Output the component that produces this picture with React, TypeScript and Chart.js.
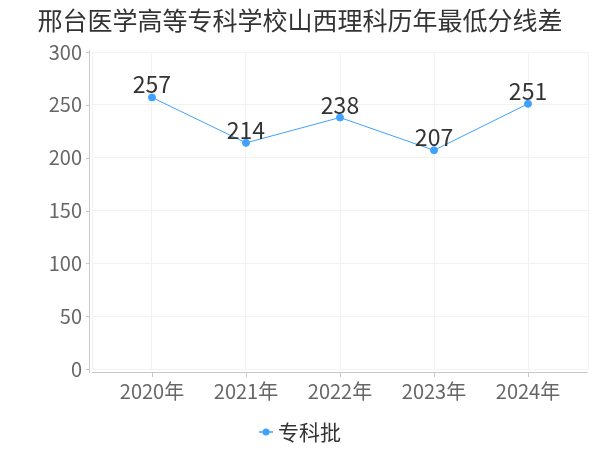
import React, { useEffect, useRef } from "react";
import { Chart, registerables } from "chart.js";

Chart.register(...registerables);

const titleText = "邢台医学高等专科学校山西理科历年最低分线差";
const categories = ["2020年", "2021年", "2022年", "2023年", "2024年"];
const seriesName = "专科批";
const seriesValues = [257, 214, 238, 207, 251];
const yTicks = [0, 50, 100, 150, 200, 250, 300];

const FONT = '"Noto Sans CJK SC", "Noto Sans", sans-serif';
const BLUE = "#3fa1ff";

const decorPlugin = {
  id: "decor",
  beforeDatasetsDraw(chart: any) {
    const { ctx, chartArea } = chart;
    const { left, right, top, bottom } = chartArea;
    ctx.save();
    ctx.strokeStyle = "#f2f2f2";
    ctx.lineWidth = 1;
    ctx.beginPath();
    ctx.moveTo(right + 0.5, top);
    ctx.lineTo(right + 0.5, bottom);
    ctx.moveTo(left + 0.5, top);
    ctx.lineTo(left + 0.5, bottom);
    ctx.stroke();
    ctx.strokeStyle = "#c8c8c8";
    ctx.beginPath();
    ctx.moveTo(left - 2.5, top - 2);
    ctx.lineTo(left - 2.5, bottom + 4);
    ctx.moveTo(left, bottom + 3.5);
    ctx.lineTo(right, bottom + 3.5);
    const ys = chart.scales.y;
    ys.ticks.forEach((t: any) => {
      const py = Math.round(ys.getPixelForValue(t.value)) + 0.5;
      ctx.moveTo(left - 6, py);
      ctx.lineTo(left - 2.5, py);
    });
    const xs = chart.scales.x;
    xs.ticks.forEach((t: any) => {
      const px = Math.round(xs.getPixelForValue(t.value)) + 0.5;
      ctx.moveTo(px, bottom + 3.5);
      ctx.lineTo(px, bottom + 8);
    });
    ctx.stroke();
    ctx.restore();
  },
  afterDatasetsDraw(chart: any) {
    const { ctx } = chart;
    ctx.save();
    const meta = chart.getDatasetMeta(0);
    ctx.font = `23px ${FONT}`;
    ctx.fillStyle = "#333";
    ctx.textAlign = "center";
    ctx.textBaseline = "alphabetic";
    meta.data.forEach((el: any, i: number) => {
      ctx.fillText(String(seriesValues[i]), el.x, el.y - 4);
    });
    ctx.font = `25px ${FONT}`;
    ctx.fillStyle = "#333";
    ctx.textBaseline = "middle";
    ctx.fillText(titleText, chart.width / 2, 20);
    ctx.font = `21px ${FONT}`;
    ctx.textAlign = "left";
    const tw = ctx.measureText(seriesName).width;
    const lw = 14;
    const gap = 5;
    const total = lw + gap + tw;
    const sx = chart.width / 2 - total / 2;
    const ly = 432;
    ctx.strokeStyle = BLUE;
    ctx.lineWidth = 1.5;
    ctx.beginPath();
    ctx.moveTo(sx, ly);
    ctx.lineTo(sx + lw, ly);
    ctx.stroke();
    ctx.fillStyle = BLUE;
    ctx.beginPath();
    ctx.arc(sx + lw / 2, ly, 3.5, 0, Math.PI * 2);
    ctx.fill();
    ctx.fillStyle = "#333";
    ctx.fillText(seriesName, sx + lw + gap, ly);
    ctx.restore();
  },
};

export default function App() {
  const ref = useRef<HTMLCanvasElement | null>(null);
  useEffect(() => {
    document.body.style.margin = "0";
    const canvas = ref.current;
    if (!canvas) return;
    const pad = 0.638;
    const chart = new Chart(canvas, {
      type: "line",
      data: {
        datasets: [
          {
            label: seriesName,
            data: seriesValues.map((v, i) => ({ x: i, y: v })),
            borderColor: BLUE,
            backgroundColor: BLUE,
            borderWidth: 1,
            pointRadius: 3.5,
            pointHoverRadius: 3.5,
            pointBackgroundColor: BLUE,
            pointBorderColor: BLUE,
            tension: 0,
          },
        ],
      },
      plugins: [decorPlugin],
      options: {
        animation: false,
        responsive: false,
        events: [],
        layout: { padding: { top: 52, right: 12, left: 0, bottom: 0 } },
        plugins: {
          legend: { display: false },
          title: { display: false },
          tooltip: { enabled: false },
        },
        scales: {
          x: {
            type: "linear",
            min: -pad,
            max: categories.length - 1 + pad,
            afterBuildTicks: (scale: any) => {
              scale.ticks = categories.map((_, i) => ({ value: i }));
            },
            afterFit: (scale: any) => {
              scale.height = 450 - 369;
            },
            border: { display: false },
            grid: { color: "#f2f2f2", drawTicks: false },
            ticks: {
              padding: 10,
              color: "#666",
              font: { size: 20, family: FONT },
              autoSkip: false,
              maxRotation: 0,
              callback: (v: any) => categories[v as number] ?? "",
            },
          },
          y: {
            min: 0,
            max: 300,
            afterBuildTicks: (scale: any) => {
              scale.ticks = yTicks.map((v) => ({ value: v }));
            },
            afterFit: (scale: any) => {
              scale.width = 92;
            },
            border: { display: false },
            grid: { color: "#f2f2f2", drawTicks: false },
            ticks: {
              padding: 10,
              color: "#666",
              font: { size: 20, family: FONT },
            },
          },
        },
      } as any,
    });
    return () => chart.destroy();
  }, []);
  return <canvas ref={ref} width={600} height={450} style={{ display: "block" }} />;
}
